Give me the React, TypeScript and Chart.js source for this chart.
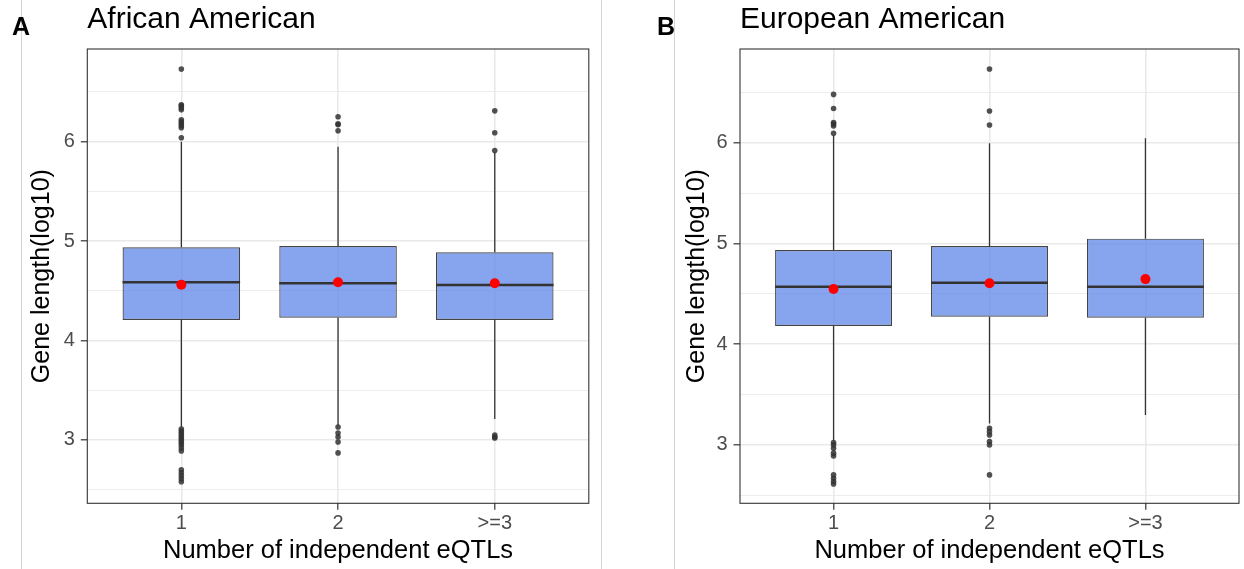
import React, { useEffect, useRef } from "react";
import { Chart, registerables } from "chart.js";

Chart.register(...registerables);

// ---------- data ----------
const CATEGORIES = ["1", "2", ">=3"];
const X_TITLE = "Number of independent eQTLs";
const Y_TITLE = "Gene length(log10)";
const Y_MAJOR = [3, 4, 5, 6];
const Y_MINOR = [2.5, 3.5, 4.5, 5.5, 6.5];

// Panel A: African American
const A_TITLE = "African American";
const A_Q1 = [4.207, 4.23, 4.207];
const A_MEDIAN = [4.586, 4.576, 4.559];
const A_Q3 = [4.938, 4.951, 4.888];
const A_WHISKER_LOW = [3.13, 3.15, 3.21];
const A_WHISKER_HIGH = [6.0, 5.95, 5.89];
const A_MEAN = [4.562, 4.586, 4.576];
const A_OUTLIERS_1 = [6.73, 6.37, 6.36, 6.34, 6.32, 6.22, 6.2, 6.18, 6.16, 6.14, 6.04, 3.11, 3.09, 3.07, 3.05, 3.03, 3.01, 2.99, 2.97, 2.95, 2.92, 2.89, 2.7, 2.67, 2.64, 2.61, 2.58];
const A_OUTLIERS_2 = [6.25, 6.18, 6.17, 6.11, 3.13, 3.07, 3.03, 2.98, 2.87];
const A_OUTLIERS_3 = [6.31, 6.09, 5.91, 3.05, 3.03, 3.02];
const A_Y_MIN = 2.363;
const A_Y_MAX = 6.932;

// Panel B: European American
const B_TITLE = "European American";
const B_Q1 = [4.18, 4.272, 4.262];
const B_MEDIAN = [4.57, 4.61, 4.57];
const B_Q3 = [4.934, 4.974, 5.047];
const B_WHISKER_LOW = [3.04, 3.21, 3.296];
const B_WHISKER_HIGH = [6.07, 5.994, 6.044];
const B_MEAN = [4.547, 4.604, 4.645];
const B_OUTLIERS_1 = [6.48, 6.34, 6.2, 6.186, 6.166, 6.093, 3.021, 2.998, 2.965, 2.916, 2.889, 2.7, 2.667, 2.634, 2.61];
const B_OUTLIERS_2 = [6.732, 6.315, 6.176, 3.164, 3.13, 3.097, 3.031, 2.998, 2.7];
const B_OUTLIERS_3: number[] = [];
const B_Y_MIN = 2.418;
const B_Y_MAX = 6.931;

// ---------- styling ----------
const FONT = "'Liberation Sans', Arial, Helvetica, sans-serif";
const BOX_WIDTH = 0.75;
const BOX_FILL = "rgba(94,135,232,0.75)";
const DARK = "#333333";
const GRID = "#e9e9e9";
const TICK_TEXT = "#4d4d4d";

const panelBorder = {
  id: "panelBorder",
  afterDatasetsDraw(chart: any) {
    const { ctx, chartArea } = chart;
    ctx.save();
    ctx.strokeStyle = DARK;
    ctx.lineWidth = 1.1;
    ctx.strokeRect(chartArea.left, chartArea.top, chartArea.right - chartArea.left, chartArea.bottom - chartArea.top);
    ctx.restore();
  },
};

type PanelProps = {
  title: string;
  q1: number[];
  median: number[];
  q3: number[];
  low: number[];
  high: number[];
  mean: number[];
  outliers: number[][];
  yMin: number;
  yMax: number;
  width: number;
  height: number;
  yAxisWidth: number;
  yTitlePad: number;
  padRight: number;
  xAxisHeight: number;
};

function buildConfig(p: PanelProps): any {
  const pos = CATEGORIES.map((_, i) => i + 1);
  const yGrid = [...Y_MINOR, ...Y_MAJOR].sort((a, b) => a - b);
  const isMajor = (v: number) => Y_MAJOR.includes(v);
  return {
    type: "bar",
    data: {
      datasets: [
        {
          type: "scatter",
          label: "mean",
          data: p.mean.map((v, i) => ({ x: pos[i], y: v })),
          pointRadius: 5,
          pointHoverRadius: 5,
          backgroundColor: "#ff0000",
          borderWidth: 0,
          order: 0,
        },
        {
          type: "scatter",
          label: "outliers",
          data: p.outliers.flatMap((arr, i) => arr.map((v) => ({ x: pos[i], y: v }))),
          pointRadius: 2.8,
          pointHoverRadius: 2.8,
          backgroundColor: "rgba(51,51,51,0.85)",
          borderWidth: 0,
          order: 1,
        },
        {
          type: "line",
          label: "median",
          data: p.median.flatMap((v, i) => [
            { x: pos[i] - BOX_WIDTH / 2, y: v },
            { x: pos[i] + BOX_WIDTH / 2, y: v },
            { x: pos[i], y: null },
          ]),
          borderColor: DARK,
          borderWidth: 2.5,
          pointRadius: 0,
          spanGaps: false,
          fill: false,
          tension: 0,
          order: 2,
        },
        {
          type: "bar",
          label: "box",
          data: p.q1.map((v, i) => ({ x: pos[i], y: [v, p.q3[i]] })),
          backgroundColor: BOX_FILL,
          borderColor: "#444444",
          borderWidth: 1.2,
          borderSkipped: false,
          barPercentage: BOX_WIDTH,
          categoryPercentage: 1,
          order: 3,
        },
        {
          type: "line",
          label: "whiskers",
          data: pos.flatMap((x, i) => [
            { x, y: p.q3[i] },
            { x, y: p.high[i] },
            { x, y: null },
            { x, y: p.q1[i] },
            { x, y: p.low[i] },
            { x, y: null },
          ]),
          borderColor: DARK,
          borderWidth: 1.3,
          pointRadius: 0,
          spanGaps: false,
          fill: false,
          tension: 0,
          order: 4,
        },
      ],
    },
    options: {
      responsive: false,
      animation: false,
      events: [],
      layout: { padding: { left: 0, right: p.padRight, top: 0, bottom: 0 } },
      plugins: {
        legend: { display: false },
        tooltip: { enabled: false },
        title: {
          display: true,
          text: p.title,
          align: "start",
          fullSize: false,
          color: "#000000",
          font: { family: FONT, size: 30, weight: "normal" },
          padding: { top: 2, bottom: 11 },
        },
      },
      scales: {
        x: {
          type: "linear",
          min: 0.4,
          max: 3.6,
          offset: false,
          afterBuildTicks: (s: any) => {
            s.ticks = pos.map((v) => ({ value: v }));
          },
          afterFit: (s: any) => {
            s.height = p.xAxisHeight;
          },
          ticks: {
            autoSkip: false,
            maxRotation: 0,
            padding: 2,
            color: TICK_TEXT,
            font: { family: FONT, size: 20 },
            callback: (v: number) => CATEGORIES[Math.round(v) - 1] ?? "",
          },
          grid: {
            color: GRID,
            lineWidth: 1.6,
            tickLength: 6.5,
            tickColor: DARK,
            tickWidth: 1.2,
            offset: false,
          },
          border: { display: false },
          title: {
            display: true,
            text: X_TITLE,
            color: "#000000",
            font: { family: FONT, size: 25.5 },
            padding: { top: 0, bottom: 3 },
          },
        },
        y: {
          type: "linear",
          min: p.yMin,
          max: p.yMax,
          afterBuildTicks: (s: any) => {
            s.ticks = yGrid.map((v) => ({ value: v }));
          },
          afterFit: (s: any) => {
            s.width = p.yAxisWidth;
          },
          ticks: {
            autoSkip: false,
            padding: 6,
            color: TICK_TEXT,
            font: { family: FONT, size: 20 },
            callback: (v: number) => (isMajor(v) ? String(v) : ""),
          },
          grid: {
            color: GRID,
            lineWidth: (c: any) => (c.tick && isMajor(c.tick.value) ? 1.6 : 0.8),
            tickLength: 6.5,
            tickColor: (c: any) => (c.tick && isMajor(c.tick.value) ? DARK : "rgba(0,0,0,0)"),
            tickWidth: 1.2,
          },
          border: { display: false },
          title: {
            display: true,
            text: Y_TITLE,
            color: "#000000",
            font: { family: FONT, size: 25 },
            padding: { top: p.yTitlePad, bottom: 0 },
          },
        },
      },
    },
    plugins: [panelBorder],
  };
}

function Panel(props: PanelProps & { left: number }) {
  const ref = useRef<HTMLCanvasElement | null>(null);
  useEffect(() => {
    if (!ref.current) return;
    const chart = new Chart(ref.current, buildConfig(props));
    return () => chart.destroy();
  }, []);
  return (
    <canvas
      ref={ref}
      width={props.width}
      height={props.height}
      style={{ position: "absolute", left: props.left, top: 0, width: props.width, height: props.height }}
    />
  );
}

const vline = (x: number): React.CSSProperties => ({
  position: "absolute",
  left: x,
  top: 0,
  width: 1,
  height: 569,
  background: "#d4d4d4",
});

const letterStyle = (x: number): React.CSSProperties => ({
  position: "absolute",
  left: x,
  top: 13.7,
  fontFamily: FONT,
  fontWeight: "bold",
  fontSize: 25,
  lineHeight: 1,
  color: "#000",
});

export default function App() {
  return (
    <div style={{ position: "fixed", left: 0, top: 0, width: 1244, height: 569, background: "#fff", overflow: "hidden" }}>
      <Panel
        left={0}
        width={601}
        height={569}
        title={A_TITLE}
        q1={A_Q1}
        median={A_MEDIAN}
        q3={A_Q3}
        low={A_WHISKER_LOW}
        high={A_WHISKER_HIGH}
        mean={A_MEAN}
        outliers={[A_OUTLIERS_1, A_OUTLIERS_2, A_OUTLIERS_3]}
        yMin={A_Y_MIN}
        yMax={A_Y_MAX}
        yAxisWidth={87.3}
        yTitlePad={27.5}
        padRight={12.2}
        xAxisHeight={65.7}
      />
      <Panel
        left={602}
        width={642}
        height={569}
        title={B_TITLE}
        q1={B_Q1}
        median={B_MEDIAN}
        q3={B_Q3}
        low={B_WHISKER_LOW}
        high={B_WHISKER_HIGH}
        mean={B_MEAN}
        outliers={[B_OUTLIERS_1, B_OUTLIERS_2, B_OUTLIERS_3]}
        yMin={B_Y_MIN}
        yMax={B_Y_MAX}
        yAxisWidth={138}
        yTitlePad={79.7}
        padRight={1.5}
        xAxisHeight={65.7}
      />
      <div style={vline(20.5)} />
      <div style={vline(601)} />
      <div style={vline(674)} />
      <div style={letterStyle(12)}>A</div>
      <div style={letterStyle(657)}>B</div>
    </div>
  );
}
